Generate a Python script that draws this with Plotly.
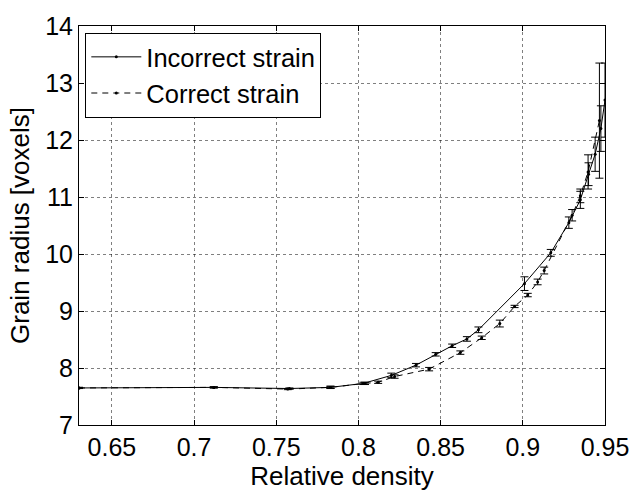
import plotly.graph_objects as go

# Incorrect strain (solid)
inc_x = [0.63, 0.712, 0.758, 0.783, 0.803, 0.82, 0.835, 0.847, 0.857, 0.866, 0.873,
         0.901, 0.917, 0.928, 0.935, 0.940, 0.944, 0.9475, 0.95]
inc_y = [7.65, 7.66, 7.64, 7.66, 7.73, 7.87, 8.05, 8.24, 8.39, 8.51, 8.67,
         9.48, 10.02, 10.55, 10.95, 11.40, 11.75, 12.20, 12.70]
inc_e = [0.01, 0.01, 0.01, 0.02, 0.02, 0.04, 0.03, 0.03, 0.03, 0.04, 0.05,
         0.12, 0.06, 0.10, 0.15, 0.20, 0.30, 0.40, 0.65]

# Correct strain (dashed)
cor_x = [0.63, 0.712, 0.757, 0.783, 0.804, 0.812, 0.822, 0.843, 0.862, 0.875, 0.886,
         0.895, 0.903, 0.909, 0.913, 0.930, 0.935, 0.9397, 0.9466]
cor_y = [7.65, 7.66, 7.63, 7.66, 7.73, 7.75, 7.85, 7.98, 8.27, 8.53, 8.78,
         9.08, 9.28, 9.51, 9.71, 10.68, 11.02, 11.44, 12.34]
cor_e = [0.01, 0.01, 0.01, 0.02, 0.02, 0.02, 0.03, 0.03, 0.03, 0.03, 0.06,
         0.02, 0.03, 0.05, 0.06, 0.10, 0.12, 0.30, 1.01]

x_ticks = [0.65, 0.7, 0.75, 0.8, 0.85, 0.9, 0.95]
y_ticks = [7, 8, 9, 10, 11, 12, 13, 14]

FONT = "Liberation Sans, Arial, sans-serif"

fig = go.Figure()
fig.add_trace(go.Scatter(
    x=inc_x, y=inc_y, name="Incorrect strain", mode="lines+markers",
    line=dict(color="black", width=1),
    marker=dict(color="black", size=3),
    error_y=dict(type="data", array=inc_e, visible=True, color="black",
                 thickness=1, width=4),
))
fig.add_trace(go.Scatter(
    x=cor_x, y=cor_y, name="Correct strain", mode="lines+markers",
    line=dict(color="black", width=1, dash="6px,5px"),
    marker=dict(color="black", size=3),
    error_y=dict(type="data", array=cor_e, visible=True, color="black",
                 thickness=1, width=4),
))

axis_common = dict(
    showline=True, linecolor="black", linewidth=1, mirror="ticks",
    ticks="inside", ticklen=5, tickcolor="black",
    showgrid=True, gridcolor="rgba(0,0,0,0.5)", griddash="dot", gridwidth=1,
    zeroline=False,
    tickfont=dict(family=FONT, size=25, color="black"),
)

fig.update_layout(
    width=641, height=493,
    margin=dict(l=79, r=27, t=16, b=60),
    paper_bgcolor="white", plot_bgcolor="white",
    font=dict(family=FONT, color="black"),
    showlegend=True,
    legend=dict(
        x=0.012, y=0.983, xanchor="left", yanchor="top",
        bgcolor="white", bordercolor="black", borderwidth=1,
        font=dict(family=FONT, size=25.5, color="black"),
        tracegroupgap=0, itemwidth=50,
    ),
    xaxis=dict(
        range=[0.63, 0.95], tickvals=x_ticks,
        ticktext=[f"{v:g}" for v in x_ticks],
        title=dict(text="Relative density", font=dict(family=FONT, size=26), standoff=2),
        **axis_common,
    ),
    yaxis=dict(
        range=[7, 14], tickvals=y_ticks,
        ticktext=[str(v) for v in y_ticks],
        title=dict(text="Grain radius [voxels]", font=dict(family=FONT, size=26), standoff=8),
        **axis_common,
    ),
)

fig.write_html("out.html")
